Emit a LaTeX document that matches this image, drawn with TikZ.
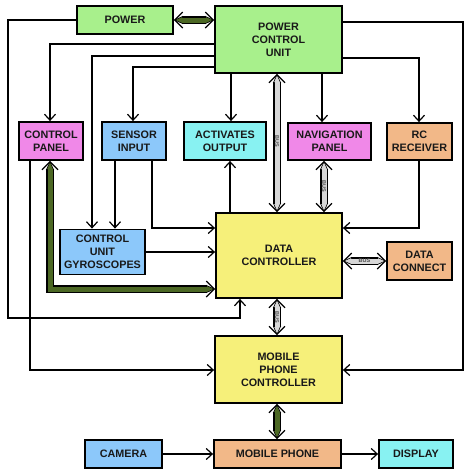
\documentclass[tikz,border=0pt]{standalone}
\usepackage{fontspec}
\setmainfont{Liberation Sans}
\usetikzlibrary{arrows.meta}
\definecolor{cgreen}{RGB}{168,240,140}
\definecolor{cmag}{RGB}{240,136,232}
\definecolor{cblue}{RGB}{140,200,250}
\definecolor{ccyan}{RGB}{136,242,242}
\definecolor{corange}{RGB}{242,184,136}
\definecolor{cyellow}{RGB}{246,240,122}
\definecolor{dgreen}{RGB}{76,104,36}
\definecolor{busgray}{RGB}{215,215,215}
\definecolor{txt}{RGB}{25,25,25}
\tikzset{
  box/.style={draw=black, line width=1.8pt, align=center, inner sep=0pt,
    text=txt, font=\fontsize{10.8}{13}\selectfont\bfseries},
  arr/.style={line width=1.2pt, -{Straight Barb[length=6pt,width=11pt]}},
  fat/.style={line width=1.2pt,
    {Straight Barb[length=8pt,width=16pt]}-{Straight Barb[length=8pt,width=16pt]},
    preaction={draw=black, line width=7.5pt,
      {Triangle[length=9pt,width=0pt 1]}-{Triangle[length=9pt,width=0pt 1]}},
    postaction={draw=#1, line width=5pt, shorten <=1.6pt, shorten >=1.6pt,
      {Triangle[length=6.5pt,width=0pt 1]}-{Triangle[length=6.5pt,width=0pt 1]}}},
  buslbl/.style={font=\fontsize{5.5}{6}\selectfont\bfseries, text=black!70, inner sep=0pt}
}
\begin{document}
\begin{tikzpicture}[x=1pt,y=-1pt]
\useasboundingbox[fill=white] (0,0) rectangle (474,475);
% boxes
\node[box, fill=cgreen, minimum width=96pt, minimum height=28pt] (power) at (125,20) {POWER};
\node[box, fill=cgreen, minimum width=127pt, minimum height=67pt] (pcu) at (278.5,39.5) {POWER\\CONTROL\\UNIT};
\node[box, fill=cmag, minimum width=64pt, minimum height=38pt] (cp) at (51,141) {CONTROL\\PANEL};
\node[box, fill=cblue, minimum width=64pt, minimum height=38pt] (si) at (134,141) {SENSOR\\INPUT};
\node[box, fill=ccyan, minimum width=82pt, minimum height=38pt] (ao) at (225,141) {ACTIVATES\\OUTPUT};
\node[box, fill=cmag, minimum width=83pt, minimum height=37pt] (nav) at (329.5,141.5) {NAVIGATION\\PANEL};
\node[box, fill=corange, minimum width=65pt, minimum height=37pt] (rc) at (419.5,141.5) {RC\\RECEIVER};
\node[box, fill=cblue, minimum width=85pt, minimum height=45pt] (cug) at (102.5,252) {CONTROL\\UNIT\\GYROSCOPES};
\node[box, fill=cyellow, minimum width=126pt, minimum height=85pt] (dc) at (279,255.5) {DATA\\CONTROLLER};
\node[box, fill=corange, minimum width=65pt, minimum height=38pt] (dcon) at (419.5,261) {DATA\\CONNECT};
\node[box, fill=cyellow, minimum width=127pt, minimum height=67pt] (mpc) at (278.5,369.5) {MOBILE\\PHONE\\CONTROLLER};
\node[box, fill=cblue, minimum width=77pt, minimum height=28pt] (cam) at (123.5,454) {CAMERA};
\node[box, fill=corange, minimum width=127pt, minimum height=28pt] (mp) at (277.5,454) {MOBILE PHONE};
\node[box, fill=ccyan, minimum width=74pt, minimum height=28pt] (disp) at (416,454) {DISPLAY};
% thin connectors
\draw[arr] (power.west) -- (8,20) -- (8,318) -- (240,318) -- (dc.south -| 240,0);
\draw[arr] (pcu.west |- 0,44) -| (cp.north -| 50,0);
\draw[arr] (pcu.west |- 0,56) -| (cug.north -| 92,0);
\draw[arr] (pcu.west |- 0,67) -| (si.north -| 133,0);
\draw[arr] (pcu.south -| 231,0) -- (ao.north -| 231,0);
\draw[arr] (pcu.south -| 322,0) -- (nav.north -| 322,0);
\draw[arr] (pcu.east |- 0,58) -| (rc.north -| 419,0);
\draw[arr] (pcu.east |- 0,22) -| (463,370) -- (mpc.east |- 0,370);
\draw[arr] (rc.south -| 419,0) |- (dc.east |- 0,228);
\draw[arr] (cam) -- (mp);
\draw[arr] (mp) -- (disp);
\draw[arr] (cp.south -| 30,0) |- (mpc.west |- 0,370);
\draw[arr] (si.south -| 115,0) -- (cug.north -| 115,0);
\draw[arr] (si.south -| 152,0) |- (dc.west |- 0,228);
\draw[arr] (cug.east) -- (cug.east -| dc.west);
\draw[arr] (dc.north -| 230,0) -- (ao.south -| 230,0);
% fat connectors
\draw[fat=dgreen] (power.east) -- (power.east -| pcu.west);
\draw[fat=dgreen, line join=miter] (cp.south -| 50,0) -- (50,289) -- (dc.west |- 0,289);
\draw[fat=dgreen] (mpc.south -| 277,0) -- (mp.north -| 277,0);
\draw[fat=busgray] (pcu.south -| 277,0) -- (dc.north -| 277,0);
\draw[fat=busgray] (nav.south -| 324,0) -- (dc.north -| 324,0);
\draw[fat=busgray] (dcon.west) -- (dcon.west -| dc.east);
\draw[fat=busgray] (dc.south -| 277,0) -- (mpc.north -| 277,0);
% bus labels
\node[buslbl, rotate=-90] (b1) at (277,141) {BUS};
\node[buslbl, rotate=-90] (b2) at (324,186) {BUS};
\node[buslbl] (b3) at (364.5,261) {BUS};
\node[buslbl, rotate=-90] (b4) at (277,317) {BUS};
\end{tikzpicture}
\end{document}
